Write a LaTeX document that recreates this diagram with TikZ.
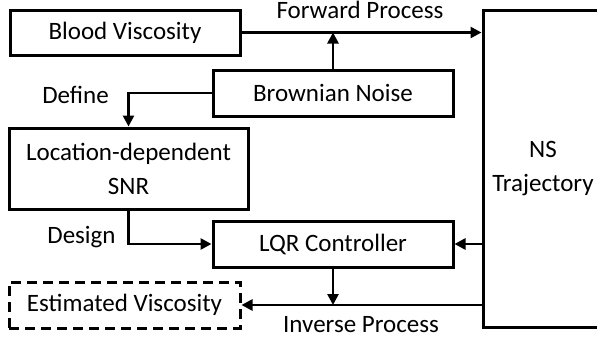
\documentclass[tikz,border=0pt]{standalone}
\usepackage{fontspec}
\setmainfont{Carlito}
\usetikzlibrary{arrows.meta}

\tikzset{
  block/.style={draw,line width=3pt,inner sep=0pt,align=center,font=\fontsize{25}{34}\selectfont},
  dashblock/.style={block,dash pattern=on 10pt off 6pt},
  flow/.style={line width=2.6pt,-{Triangle[length=11pt,width=11pt]}},
  tag/.style={anchor=base,inner sep=0pt,font=\fontsize{25}{34}\selectfont}
}

\begin{document}
\begin{tikzpicture}[x=1pt,y=-1pt]
\useasboundingbox (0,0) rectangle (597,343);
\clip (0,0) rectangle (597,343);

\node[block,minimum width=230pt,minimum height=45pt] (blood) at (125,32.5) {Blood Viscosity};
\node[block,minimum width=240pt,minimum height=46pt] (noise) at (333,93) {Brownian Noise};
\node[block,minimum width=239pt,minimum height=81pt] (snr) at (128.5,168.5) {Location-dependent\\SNR};
\node[block,minimum width=240pt,minimum height=46pt] (lqr) at (333,244) {LQR Controller};
\node[dashblock,minimum width=231pt,minimum height=46pt] (est) at (124.5,305) {Estimated Viscosity};
\node[block,minimum width=120pt,minimum height=317pt] (ns) at (543,168.5) {NS\\Trajectory};

\draw[flow] (blood.east) -- (blood.east -| ns.west);
\draw[flow] (noise.north) -- (noise.north |- blood.east);
\draw[flow] (noise.west) -| (snr.north);
\draw[flow] (snr.south) |- (lqr.west);
\draw[flow] (lqr.east -| ns.west) -- (lqr.east);
\draw[flow] (lqr.south) -- (lqr.south |- est.east);
\draw[flow] (est.east -| ns.west) -- (est.east);

\node[tag] (fwd) at (360,18) {Forward Process};
\node[tag] (inv) at (361,332) {Inverse Process};
\node[tag] (def) at (75.5,103) {Define};
\node[tag] (des) at (81.5,243) {Design};
\end{tikzpicture}
\end{document}
